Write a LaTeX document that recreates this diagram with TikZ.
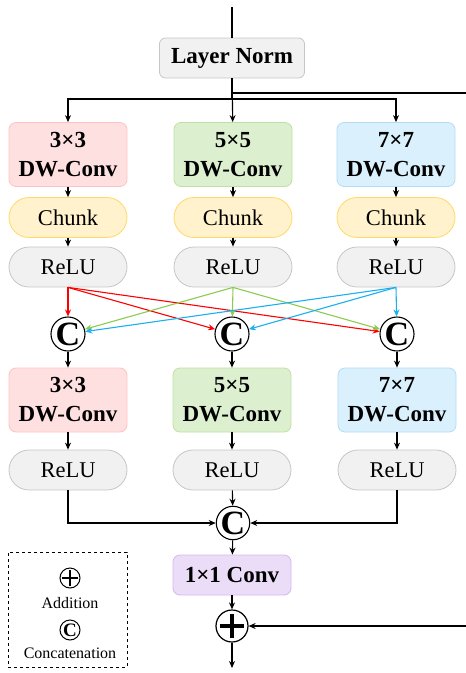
\documentclass[tikz,border=0pt]{standalone}
\usepackage{fontspec}
\setmainfont{Liberation Serif}
\usetikzlibrary{arrows.meta}

\definecolor{redfill}{HTML}{FFE0E0}
\definecolor{redline}{HTML}{FFC2C2}
\definecolor{greenfill}{HTML}{DCF0CF}
\definecolor{greenline}{HTML}{BDE0A6}
\definecolor{bluefill}{HTML}{DAF1FD}
\definecolor{blueline}{HTML}{B3DCF5}
\definecolor{chunkfill}{HTML}{FFF2CC}
\definecolor{chunkline}{HTML}{FFD966}
\definecolor{grayfill}{HTML}{F1F1F1}
\definecolor{grayline}{HTML}{C6C6C6}
\definecolor{purplefill}{HTML}{EBDDF7}
\definecolor{purpleline}{HTML}{D4B8EC}
\definecolor{redarrow}{HTML}{FF0000}
\definecolor{greenarrow}{HTML}{8CCB50}
\definecolor{bluearrow}{HTML}{1AAFEF}

\tikzset{
  box/.style={draw, line width=0.8pt, rounded corners=7pt, minimum width=118pt,
    minimum height=64pt, align=center, inner sep=2pt,
    font=\bfseries\fontsize{23}{29}\selectfont},
  pill/.style={draw=grayline, fill=grayfill, line width=0.8pt, rounded corners=20pt,
    minimum width=118pt, minimum height=40pt, font=\fontsize{22.5}{26}\selectfont},
  cat/.style={draw, circle, line width=1.1pt, minimum size=34pt, inner sep=0pt,
    font=\bfseries\fontsize{34}{34}\selectfont},
  link/.style={-{Stealth[length=7pt,width=6pt]}, line width=1.1pt},
  add/.style={draw, circle, line width=1.2pt, minimum size=#1, inner sep=0pt,
    path picture={
      \draw[line width=0.1*#1]
        ([xshift=-0.38*#1]path picture bounding box.center) -- ([xshift=0.38*#1]path picture bounding box.center)
        ([yshift=-0.38*#1]path picture bounding box.center) -- ([yshift=0.38*#1]path picture bounding box.center);}},
}

\begin{document}
\begin{tikzpicture}[x=1pt,y=-1pt]
  \useasboundingbox (0,0) rectangle (466,673);

  \coordinate (in) at (232,7);
  \node[box, draw=grayline, fill=grayfill, minimum width=145pt, minimum height=40pt,
    rounded corners=6pt] (ln) at (232,58) {Layer Norm};
  \coordinate (split) at (232,99);
  \coordinate (res) at (232,93);
  \coordinate (resout) at (466,93);
  \coordinate (resin) at (466,626);

  \node[box, draw=redline, fill=redfill] (dw1) at (68,154.5) {3×3\\DW-Conv};
  \node[box, draw=greenline, fill=greenfill] (dw2) at (233,154.5) {5×5\\DW-Conv};
  \node[box, draw=blueline, fill=bluefill] (dw3) at (396,154.5) {7×7\\DW-Conv};

  \node[pill, draw=chunkline, fill=chunkfill] (ch1) at (68,217.5) {Chunk};
  \node[pill, draw=chunkline, fill=chunkfill] (ch2) at (233,217.5) {Chunk};
  \node[pill, draw=chunkline, fill=chunkfill] (ch3) at (396,217.5) {Chunk};

  \node[pill] (re1) at (68,267) {ReLU};
  \node[pill] (re2) at (233,267) {ReLU};
  \node[pill] (re3) at (396,267) {ReLU};

  \node[cat] (cat1) at (68,334) {C};
  \node[cat] (cat2) at (232,334) {C};
  \node[cat] (cat3) at (397,334) {C};

  \node[box, draw=redline, fill=redfill] (dw4) at (68,400) {3×3\\DW-Conv};
  \node[box, draw=greenline, fill=greenfill] (dw5) at (232,400) {5×5\\DW-Conv};
  \node[box, draw=blueline, fill=bluefill] (dw6) at (397,400) {7×7\\DW-Conv};

  \node[pill] (re4) at (68,470) {ReLU};
  \node[pill] (re5) at (232,470) {ReLU};
  \node[pill] (re6) at (397,470) {ReLU};

  \node[cat, minimum size=33pt] (cat4) at (233,523) {C};
  \node[box, draw=purpleline, fill=purplefill, minimum height=40pt] (pw) at (232,575) {1×1 Conv};
  \node[add=32pt] (sum) at (232,626) {};
  \coordinate (out) at (232,668);

  \draw[line width=1.1pt] (in) -- (ln);
  \draw[line width=1.1pt] (ln.south) -- (split);
  \draw[line width=1.1pt] (res) -- (resout);
  \draw[link] (split) -| (dw1);
  \draw[link] (ln) -- (dw2);
  \draw[link] (split) -| (dw3);

  \draw[link] (dw1) -- (ch1);
  \draw[link] (dw2) -- (ch2);
  \draw[link] (dw3) -- (ch3);
  \draw[link] (ch1) -- (re1);
  \draw[link] (ch2) -- (re2);
  \draw[link] (ch3) -- (re3);

  \begin{scope}[link, redarrow]
    \draw (re1.south) -- (cat1);
    \draw (re1.south) -- (cat2);
    \draw (re1.south) -- (cat3);
  \end{scope}
  \begin{scope}[link, greenarrow]
    \draw (re2.south) -- (cat1);
    \draw (re2.south) -- (cat2);
    \draw (re2.south) -- (cat3);
  \end{scope}
  \begin{scope}[link, bluearrow]
    \draw (re3.south) -- (cat1);
    \draw (re3.south) -- (cat2);
    \draw (re3.south) -- (cat3);
  \end{scope}

  \draw[link] (cat1) -- (dw4);
  \draw[link] (cat2) -- (dw5);
  \draw[link] (cat3) -- (dw6);
  \draw[link] (dw4) -- (re4);
  \draw[link] (dw5) -- (re5);
  \draw[link] (dw6) -- (re6);

  \draw[link] (re4.south) |- (cat4.west);
  \draw[link] (re5) -- (cat4);
  \draw[link] (re6.south) |- (cat4.east);
  \draw[link] (cat4) -- (pw);
  \draw[link] (pw) -- (sum);
  \draw[link] (resin) -- (sum.east);
  \draw[link] (sum) -- (out);

  \node[draw, dashed, line width=0.9pt, minimum width=119pt, minimum height=115pt] (key) at (67.5,609.5) {};
  \node[add=20pt, line width=1pt] (keyadd) at (70,578) {};
  \node[font=\fontsize{16}{16}\selectfont] (keyaddtext) at (70,603) {Addition};
  \node[cat, minimum size=20pt, line width=1pt, font=\bfseries\fontsize{19}{19}\selectfont] (keycat) at (70,630) {C};
  \node[font=\fontsize{16}{16}\selectfont] (keycattext) at (70,653) {Concatenation};
\end{tikzpicture}
\end{document}
